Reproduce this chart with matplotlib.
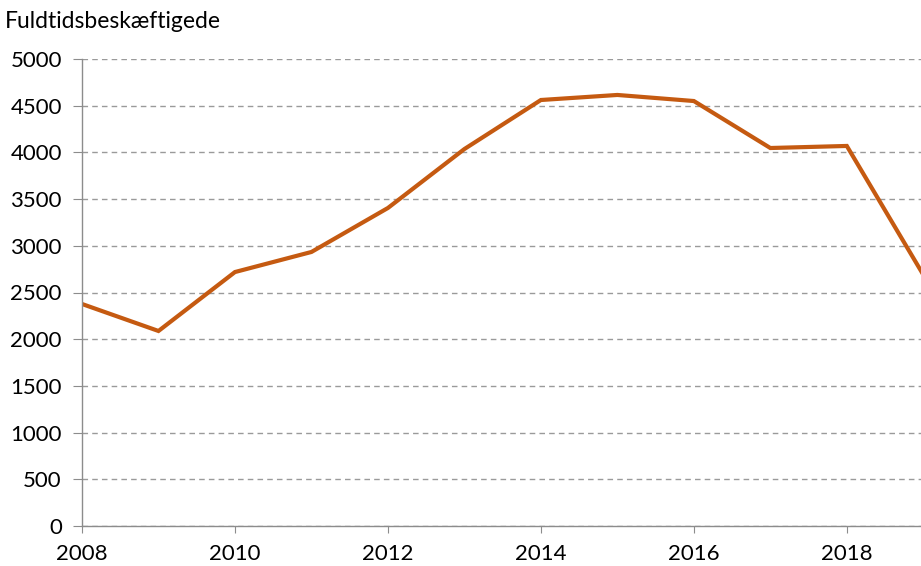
import matplotlib
matplotlib.use("Agg")
import matplotlib.pyplot as plt

years = [2008, 2009, 2010, 2011, 2012, 2013, 2014, 2015, 2016, 2017, 2018, 2019]
values = [2377, 2088, 2719, 2934, 3405, 4036, 4561, 4615, 4550, 4047, 4069, 2690]
yticks = [0, 500, 1000, 1500, 2000, 2500, 3000, 3500, 4000, 4500, 5000]
xticks = [2008, 2010, 2012, 2014, 2016, 2018]

plt.rcParams['font.family'] = ['Lato', 'DejaVu Sans']

fig = plt.figure(figsize=(9.21, 5.66), dpi=100)
ax = fig.add_axes([82/921, 1-526/566, 1-82/921, (526-59)/566])
ax.plot(years, values, color='#C55A11', lw=3, solid_joinstyle='miter', clip_on=True)
ax.set_xlim(2008, 2018.97)
ax.set_ylim(0, 5000)
ax.set_yticks(yticks)
ax.set_xticks(xticks)
ax.yaxis.grid(True, linestyle=(0, (4, 3)), color='#9a9a9a', lw=1)
ax.set_axisbelow(True)
for s in ['top', 'right']:
    ax.spines[s].set_visible(False)
for s in ['left', 'bottom']:
    ax.spines[s].set_color('#8c8c8c')
    ax.spines[s].set_linewidth(1)
ax.tick_params(axis='both', colors='#8c8c8c', labelcolor='black', labelsize=16, direction='out')
ax.tick_params(axis='y', length=6.5, pad=8)
ax.tick_params(axis='x', length=5, pad=8)
fig.text(5/921, 1-22/566, 'Fuldtidsbeskæftigede', fontsize=16.5, va='center', ha='left')
fig.savefig('out.png', dpi=100)
